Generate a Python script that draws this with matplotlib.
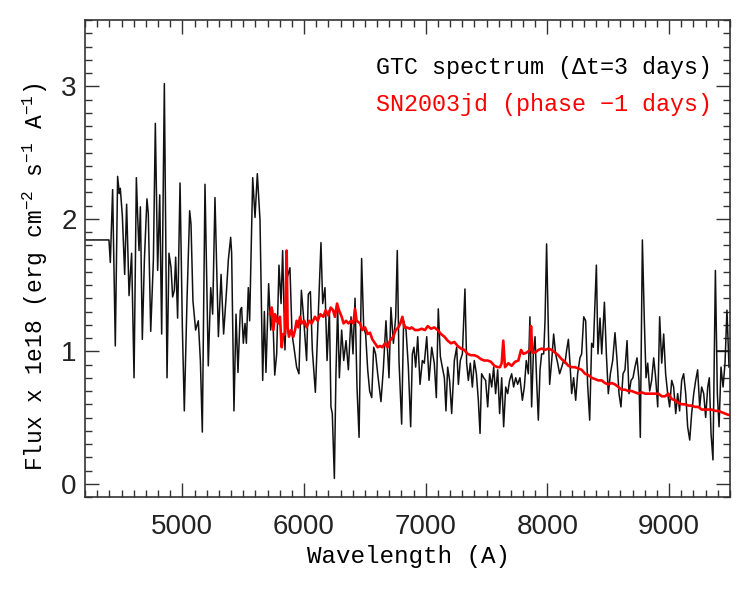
import matplotlib
matplotlib.use("Agg")
import matplotlib.pyplot as plt
from matplotlib.ticker import MultipleLocator

# GTC spectrum (black)
black_wave = [4200, 4397, 4408, 4427, 4449, 4468, 4482, 4490, 4507, 4526, 4542, 4562, 4583, 4603,
              4622, 4633, 4644, 4655, 4671, 4688, 4709, 4720, 4740, 4762, 4778, 4797, 4814, 4830,
              4852, 4874, 4890, 4907, 4920, 4934, 4945, 4961, 4981, 5000, 5016, 5038, 5060, 5071,
              5087, 5109, 5131, 5148, 5164, 5186, 5213, 5233, 5249, 5268, 5296, 5318, 5339, 5361,
              5378, 5397, 5405, 5424, 5441, 5457, 5476, 5487, 5501, 5515, 5526, 5542, 5553, 5578,
              5597, 5616, 5638, 5660, 5674, 5687, 5709, 5726, 5742, 5759, 5775, 5794, 5811, 5824,
              5843, 5863, 5884, 5901, 5917, 5939, 5958, 5978, 5994, 6021, 6035, 6052, 6068, 6093,
              6112, 6139, 6153, 6172, 6189, 6208, 6221, 6232, 6249, 6262, 6276, 6290, 6309, 6326,
              6345, 6364, 6386, 6402, 6419, 6435, 6452, 6473, 6490, 6506, 6523, 6539, 6556, 6572,
              6588, 6605, 6632, 6651, 6673, 6698, 6714, 6734, 6753, 6766, 6780, 6802, 6818, 6838,
              6857, 6876, 6890, 6903, 6917, 6934, 6953, 6972, 6988, 7008, 7027, 7049, 7070, 7087,
              7103, 7120, 7136, 7153, 7166, 7180, 7196, 7213, 7235, 7254, 7268, 7284, 7301, 7322,
              7336, 7350, 7366, 7383, 7399, 7416, 7432, 7446, 7459, 7476, 7492, 7509, 7525, 7542,
              7558, 7574, 7591, 7607, 7624, 7640, 7657, 7673, 7689, 7706, 7722, 7739, 7755, 7774,
              7794, 7810, 7826, 7843, 7856, 7870, 7884, 7898, 7911, 7925, 7939, 7952, 7969, 7980,
              7993, 8007, 8018, 8035, 8051, 8067, 8084, 8100, 8117, 8133, 8144, 8158, 8172, 8185,
              8199, 8215, 8232, 8248, 8267, 8281, 8298, 8314, 8330, 8347, 8363, 8377, 8402, 8415,
              8432, 8446, 8468, 8484, 8500, 8517, 8536, 8555, 8572, 8588, 8604, 8621, 8637, 8654,
              8670, 8687, 8703, 8719, 8736, 8752, 8763, 8780, 8796, 8810, 8824, 8840, 8856, 8873,
              8889, 8906, 8922, 8939, 8955, 8971, 8988, 9004, 9021, 9037, 9054, 9070, 9086, 9103,
              9119, 9136, 9152, 9169, 9185, 9202, 9218, 9234, 9251, 9267, 9284, 9300, 9317, 9330,
              9344, 9360, 9380, 9396, 9410, 9426, 9443, 9459, 9475, 9492]
black_flux = [1.84, 1.84, 1.67, 2.22, 1.04, 2.32, 2.19, 2.23, 2.02, 1.58, 2.11, 1.42, 1.74, 0.80,
              2.31, 2.01, 1.76, 2.09, 1.09, 1.69, 2.15, 2.04, 1.15, 1.69, 2.72, 1.61, 2.18, 1.13,
              3.02, 0.80, 1.74, 1.63, 1.41, 1.46, 1.71, 1.25, 2.27, 1.18, 0.55, 1.38, 2.06, 1.96,
              1.38, 1.16, 1.23, 0.93, 0.39, 2.26, 0.89, 1.48, 1.28, 2.16, 1.11, 1.58, 1.13, 1.43,
              1.69, 1.86, 1.74, 0.55, 1.28, 0.84, 1.31, 1.33, 1.06, 1.21, 1.06, 1.48, 1.23, 2.31,
              2.01, 2.34, 1.99, 0.78, 1.30, 0.84, 1.51, 1.16, 1.31, 0.82, 0.98, 1.65, 1.36, 1.76,
              1.01, 1.56, 1.63, 1.13, 1.03, 0.88, 0.83, 1.46, 1.28, 0.93, 1.43, 1.45, 1.01, 0.69,
              1.16, 1.82, 1.36, 1.48, 0.93, 1.31, 0.58, 0.53, 0.04, 0.83, 1.33, 0.80, 1.16, 0.93,
              1.08, 0.86, 1.26, 0.98, 1.40, 0.73, 0.35, 1.70, 1.18, 1.13, 0.86, 0.70, 0.65, 1.03,
              0.98, 0.83, 0.62, 0.86, 1.23, 0.80, 1.33, 1.06, 1.26, 1.76, 0.93, 0.45, 1.23, 1.16,
              0.88, 0.43, 0.98, 1.03, 0.88, 1.11, 0.75, 0.93, 0.91, 1.11, 0.78, 1.03, 0.91, 0.65,
              1.32, 0.96, 0.88, 0.80, 0.55, 0.88, 0.78, 0.53, 0.93, 1.03, 0.75, 0.93, 0.98, 1.47,
              0.91, 0.78, 0.91, 0.73, 0.93, 0.83, 0.63, 0.38, 0.83, 0.80, 0.78, 0.58, 0.83, 0.73,
              0.88, 0.68, 0.86, 0.53, 0.80, 0.43, 0.73, 0.68, 0.78, 0.83, 0.73, 0.80, 0.75, 0.80,
              0.63, 0.73, 0.93, 0.83, 1.26, 0.58, 0.98, 1.11, 0.78, 0.48, 0.86, 0.98, 0.98, 1.23,
              1.81, 1.18, 0.75, 0.93, 1.13, 0.98, 0.91, 0.83, 0.88, 0.93, 0.91, 1.01, 1.09, 0.91,
              0.68, 0.80, 0.63, 0.83, 0.95, 0.98, 1.26, 1.23, 0.75, 0.48, 1.06, 1.03, 1.65, 0.98,
              1.25, 0.98, 1.37, 0.98, 0.68, 0.83, 0.93, 1.14, 0.93, 0.68, 0.58, 0.83, 0.86, 1.08,
              0.68, 0.78, 0.80, 0.88, 0.95, 0.78, 0.35, 1.84, 1.23, 0.80, 0.91, 0.70, 0.78, 0.95,
              0.80, 0.58, 1.26, 0.91, 1.13, 0.83, 0.68, 0.58, 0.78, 0.73, 0.53, 0.68, 0.55, 0.78,
              0.83, 0.68, 0.43, 0.33, 0.53, 0.68, 0.78, 0.86, 0.58, 0.73, 0.68, 0.50, 0.73, 0.80,
              0.38, 0.18, 1.61, 0.68, 0.43, 0.88, 0.73, 0.91, 1.31, 0.88]

# flat end segment of the GTC spectrum
edge_wave = [9390, 9500]
edge_flux = [1.00, 1.00]

# SN2003jd template (red)
red_wave = [5720, 5734, 5748, 5761, 5775, 5789, 5802, 5816, 5830, 5843, 5857, 5865, 5876, 5893,
            5912, 5926, 5939, 5953, 5967, 5980, 6002, 6021, 6041, 6063, 6090, 6112, 6134, 6158,
            6178, 6199, 6219, 6238, 6254, 6271, 6287, 6309, 6325, 6345, 6364, 6386, 6405, 6419,
            6432, 6460, 6479, 6501, 6523, 6542, 6561, 6583, 6605, 6624, 6643, 6665, 6687, 6706,
            6733, 6753, 6775, 6791, 6808, 6824, 6843, 6870, 6884, 6912, 6939, 6966, 6994, 7016,
            7043, 7070, 7098, 7125, 7153, 7180, 7207, 7235, 7262, 7290, 7317, 7344, 7372, 7399,
            7426, 7454, 7481, 7509, 7536, 7564, 7591, 7610, 7624, 7637, 7651, 7679, 7706, 7733,
            7761, 7783, 7802, 7829, 7857, 7865, 7876, 7898, 7925, 7952, 7980, 8007, 8035, 8062,
            8089, 8117, 8144, 8172, 8199, 8226, 8254, 8281, 8309, 8336, 8363, 8391, 8418, 8446,
            8473, 8500, 8528, 8555, 8583, 8610, 8637, 8665, 8692, 8719, 8747, 8774, 8802, 8829,
            8856, 8884, 8911, 8939, 8966, 8993, 9021, 9048, 9076, 9103, 9130, 9158, 9185, 9212,
            9240, 9267, 9295, 9322, 9349, 9377, 9404, 9432, 9459, 9486, 9500]
red_flux = [1.28, 1.33, 1.16, 1.28, 1.23, 1.21, 1.26, 1.03, 1.13, 1.13, 1.76, 1.18, 1.11, 1.16,
            1.11, 1.16, 1.23, 1.18, 1.26, 1.21, 1.23, 1.18, 1.23, 1.21, 1.26, 1.23, 1.28, 1.26,
            1.31, 1.27, 1.33, 1.31, 1.26, 1.36, 1.31, 1.26, 1.21, 1.23, 1.21, 1.23, 1.21, 1.32,
            1.23, 1.21, 1.16, 1.18, 1.13, 1.14, 1.09, 1.06, 1.03, 1.04, 1.03, 1.06, 1.03, 1.08,
            1.11, 1.16, 1.18, 1.21, 1.26, 1.18, 1.18, 1.17, 1.18, 1.16, 1.16, 1.17, 1.16, 1.19,
            1.17, 1.18, 1.16, 1.13, 1.11, 1.08, 1.06, 1.07, 1.04, 1.02, 1.01, 0.98, 0.97, 0.97,
            0.96, 0.94, 0.93, 0.93, 0.92, 0.89, 0.88, 0.88, 0.91, 1.08, 0.88, 0.91, 0.89, 0.92,
            0.93, 1.01, 0.98, 0.99, 1.01, 1.19, 0.99, 0.99, 1.01, 1.02, 1.01, 1.02, 1.01, 0.99,
            0.97, 0.94, 0.92, 0.89, 0.88, 0.88, 0.87, 0.86, 0.83, 0.82, 0.80, 0.79, 0.78, 0.78,
            0.76, 0.75, 0.76, 0.75, 0.73, 0.71, 0.71, 0.70, 0.70, 0.69, 0.68, 0.69, 0.68, 0.68,
            0.68, 0.68, 0.68, 0.66, 0.66, 0.68, 0.64, 0.63, 0.61, 0.60, 0.60, 0.59, 0.59, 0.58,
            0.58, 0.56, 0.56, 0.56, 0.56, 0.55, 0.55, 0.54, 0.53, 0.52, 0.52]

x_ticks = [5000, 6000, 7000, 8000, 9000]
y_ticks = [0, 1, 2, 3]
label_black = "GTC spectrum (\u0394t=3 days)"
label_red = "SN2003jd (phase \u22121 days)"
x_label = "Wavelength (A)"
y_label = r"Flux x 1e18 (erg cm$^{-2}$ s$^{-1}$ A$^{-1}$)"

plt.rcParams['font.family'] = ['Liberation Sans', 'DejaVu Sans']
plt.rcParams['mathtext.default'] = 'regular'
mono = ['Liberation Mono', 'DejaVu Sans Mono']

fig = plt.figure(figsize=(7.5, 5.89), dpi=100)
ax = fig.add_axes([85 / 750, 1 - 497 / 589, 645 / 750, 477 / 589])

ax.plot(black_wave, black_flux, color='#111111', lw=1.1)
ax.plot(edge_wave, edge_flux, color='#111111', lw=1.1)
ax.plot(red_wave, red_flux, color='#ff0000', lw=1.9)

ax.set_xlim(4200, 9500)
ax.set_ylim(-0.1, 3.5)
ax.set_xticks(x_ticks)
ax.set_yticks(y_ticks)
ax.xaxis.set_minor_locator(MultipleLocator(100))
ax.yaxis.set_minor_locator(MultipleLocator(0.1))
ax.tick_params(which='both', direction='in', top=True, right=True, width=1.0, color='#333333')
ax.tick_params(which='major', length=10)
ax.tick_params(which='minor', length=5)
ax.tick_params(axis='x', labelsize=20, pad=12, labelcolor='#222222')
ax.tick_params(axis='y', labelsize=20, pad=6, labelcolor='#222222')
for s in ax.spines.values():
    s.set_linewidth(1.2)
    s.set_color('#333333')

ax.text(0.972, 0.901, label_black, transform=ax.transAxes, ha='right', va='center',
        fontsize=16.8, family=mono, color='black')
ax.text(0.972, 0.823, label_red, transform=ax.transAxes, ha='right', va='center',
        fontsize=16.8, family=mono, color='#ff0000')

fig.text(408 / 750, 1 - 557 / 589, x_label, ha='center', va='center', fontsize=17.5, family=mono)
fig.text(35 / 750, 1 - 277 / 589, y_label, ha='center', va='center', rotation=90,
         fontsize=16.5, family=mono)

fig.savefig('out.png', dpi=100)
